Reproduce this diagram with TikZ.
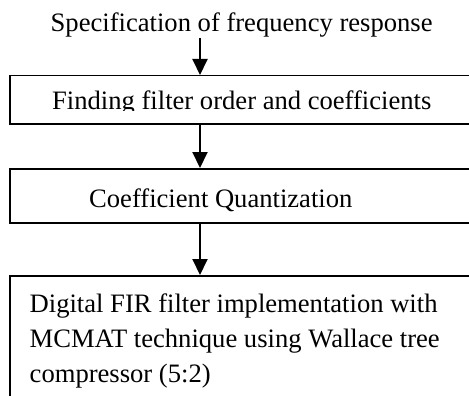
\documentclass[tikz,border=0pt]{standalone}
\usepackage{fontspec}
\setmainfont{Liberation Serif}
\usetikzlibrary{arrows.meta}
\tikzset{
  boxnode/.style={draw, line width=1.5pt, inner sep=0pt, anchor=north west, minimum width=466pt},
  txt/.style={inner sep=0pt, anchor=base west, font=\fontsize{26.6pt}{35pt}\selectfont},
  arr/.style={line width=2pt, -{Triangle[length=16pt,width=15pt]}}
}
\begin{document}
\begin{tikzpicture}[x=1pt,y=-1pt]
\clip (0,0) rectangle (469,396);
\fill[white] (0,0) rectangle (469,396);
\coordinate (ax) at (200,0);
\node[txt] (spec) at (50.5,32) {Specification of frequency response};
\node[boxnode, minimum height=48pt] (box1) at (9,75) {};
\begin{scope}
\clip (0,0) rectangle (469,111);
\node[txt] (t1) at (52,110) {Finding filter order and coefficients};
\end{scope}
\node[boxnode, minimum height=54pt] (box2) at (9,168) {};
\node[txt] (t2) at (89,207) {Coefficient Quantization};
\node[boxnode, minimum height=140pt] (box3) at (9,275) {};
\node[txt] (l1) at (29.5,312) {Digital FIR filter implementation with};
\node[txt] (l2) at (29.5,347) {MCMAT technique using Wallace tree};
\node[txt] (l3) at (29.5,382) {compressor (5:2)};
\draw[arr] (spec.south -| ax) -- (box1.north -| ax);
\draw[arr] (box1.south -| ax) -- (box2.north -| ax);
\draw[arr] (box2.south -| ax) -- (box3.north -| ax);
\end{tikzpicture}
\end{document}
